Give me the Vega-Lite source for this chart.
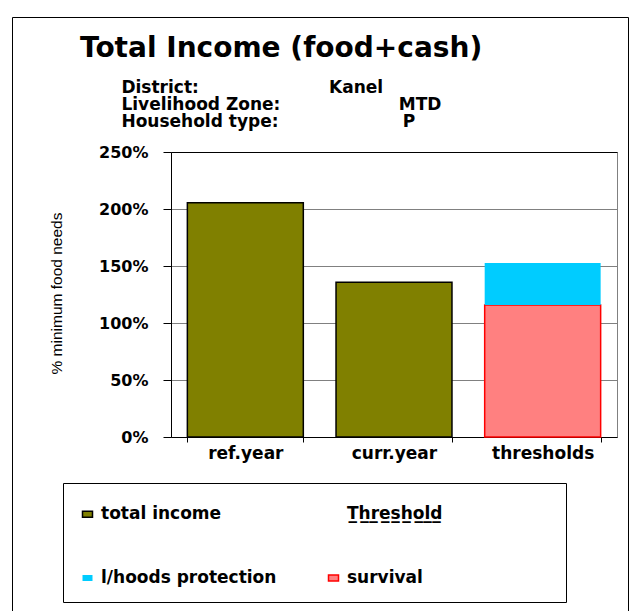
{
  "$schema": "https://vega.github.io/schema/vega-lite/v6.json",
  "autosize": "none",
  "width": 446,
  "height": 285,
  "padding": {"left": 171, "top": 152, "right": 17, "bottom": 174},
  "background": "white",
  "title": {
    "text": "Total Income (food+cash)",
    "subtitle": [
      "\u200b\u00a0\u00a0\u00a0\u00a0\u00a0\u00a0\u00a0District:\u00a0\u00a0\u00a0\u00a0\u00a0\u00a0\u00a0\u00a0\u00a0\u00a0\u00a0\u00a0\u00a0\u00a0\u00a0\u00a0\u00a0\u00a0\u00a0\u00a0\u00a0\u00a0Kanel",
      "\u200b\u00a0\u00a0\u00a0\u00a0\u00a0\u00a0\u00a0Livelihood Zone:\u00a0\u00a0\u00a0\u00a0\u00a0\u00a0\u00a0\u00a0\u00a0\u00a0\u00a0\u00a0\u00a0\u00a0\u00a0\u00a0\u00a0\u00a0\u00a0\u00a0MTD",
      "\u200b\u00a0\u00a0\u00a0\u00a0\u00a0\u00a0\u00a0Household type:\u00a0\u00a0\u00a0\u00a0\u00a0\u00a0\u00a0\u00a0\u00a0\u00a0\u00a0\u00a0\u00a0\u00a0\u00a0\u00a0\u00a0\u00a0\u00a0\u00a0\u00a0P"
    ],
    "anchor": "start",
    "frame": "group",
    "align": "left",
    "dx": -91,
    "dy": 126,
    "offset": 13,
    "font": "DejaVu Sans",
    "fontWeight": "bold",
    "fontSize": 28,
    "color": "#000000",
    "subtitleFont": "DejaVu Sans",
    "subtitleFontWeight": "bold",
    "subtitleFontSize": 17,
    "subtitleColor": "#000000",
    "subtitleLineHeight": 17,
    "subtitlePadding": 17
  },
  "data": {
    "values": [
      {"cat": "ref.year", "series": "total income", "value": 2.055},
      {"cat": "curr.year", "series": "total income", "value": 1.357},
      {"cat": "thresholds", "series": "survival", "value": 1.158},
      {"cat": "thresholds", "series": "l/hoods protection", "value": 0.368}
    ]
  },
  "mark": {"type": "bar", "strokeWidth": 1.5},
  "encoding": {
    "x": {
      "field": "cat",
      "type": "nominal",
      "sort": ["ref.year", "curr.year", "thresholds"],
      "scale": {"paddingInner": 0.22, "paddingOuter": 0.11},
      "axis": {
        "title": null,
        "labelAngle": 0,
        "tickBand": "extent",
        "tickSize": 5,
        "tickColor": "#000000",
        "domainColor": "#000000",
        "labelFont": "DejaVu Sans",
        "labelFontWeight": "bold",
        "labelFontSize": 17,
        "labelColor": "#000000",
        "labelBaseline": "alphabetic",
        "labelPadding": 16
      }
    },
    "y": {
      "field": "value",
      "type": "quantitative",
      "stack": "zero",
      "scale": {"domain": [0, 2.5], "nice": false},
      "axis": {
        "values": [0, 0.5, 1, 1.5, 2, 2.5],
        "format": ".0%",
        "title": "% minimum food needs",
        "titleFont": "Liberation Sans",
        "titleFontWeight": "normal",
        "titleFontSize": 15.5,
        "titleColor": "#000000",
        "titleX": -110,
        "titleY": 141,
        "titleAngle": -90,
        "titleAlign": "center",
        "titleBaseline": "alphabetic",
        "tickSize": 8,
        "tickColor": "#000000",
        "domainColor": "#000000",
        "labelFont": "DejaVu Sans",
        "labelFontWeight": "bold",
        "labelFontSize": 16,
        "labelColor": "#000000",
        "labelPadding": 15,
        "grid": true,
        "gridColor": {"condition": {"test": "datum.value >= 2.5", "value": "#000000"}, "value": "#808080"},
        "gridWidth": 1
      }
    },
    "order": {"field": "series", "type": "nominal", "sort": "descending"},
    "color": {
      "field": "series",
      "type": "nominal",
      "scale": {
        "domain": ["total income", "l/hoods protection", "Threshold", "survival"],
        "range": ["#808000", "#00CCFF", "rgba(0,0,0,0)", "#FF8080"]
      },
      "legend": {
        "title": "\u00a0",
        "titleFontSize": 5,
        "titlePadding": 1.5,
        "orient": "none",
        "legendX": -108,
        "legendY": 331,
        "columns": 2,
        "columnPadding": 48,
        "rowPadding": 46,
        "padding": 16,
        "strokeColor": "#000000",
        "symbolType": "M-1,-0.6H1V0.6H-1Z",
        "symbolSize": 100,
        "symbolOpacity": 1,
        "labelOffset": 5,
        "labelLimit": 400,
        "labelFont": "DejaVu Sans",
        "labelFontWeight": "bold",
        "labelFontSize": 17,
        "labelColor": "#000000",
        "labelExpr": "datum.label === 'Threshold' ? 'T\u0332h\u0332r\u0332e\u0332s\u0332h\u0332o\u0332l\u0332d\u0332\u00a0\u00a0\u00a0\u00a0\u00a0\u00a0\u00a0\u00a0\u00a0\u00a0\u00a0\u00a0\u00a0\u00a0\u00a0\u00a0\u00a0\u00a0\u200b' : datum.label",
        "encode": {
          "symbols": {
            "update": {
              "stroke": {"signal": "datum.value === 'total income' ? '#000000' : datum.value === 'survival' ? '#FF0000' : 'rgba(0,0,0,0)'"},
              "strokeWidth": {"value": 1.5}
            }
          }
        }
      }
    },
    "stroke": {
      "field": "series",
      "type": "nominal",
      "scale": {
        "domain": ["total income", "l/hoods protection", "Threshold", "survival"],
        "range": ["#000000", "rgba(0,0,0,0)", "rgba(0,0,0,0)", "#FF0000"]
      },
      "legend": null
    },
    "strokeDash": {
      "field": "cat",
      "type": "nominal",
      "scale": {"range": [[1, 0], [1, 0], [1, 0]]},
      "legend": {
        "title": null,
        "orient": "none",
        "legendX": -159,
        "legendY": -135,
        "padding": 307.5,
        "strokeColor": "#000000",
        "values": ["ref.year"],
        "symbolSize": 0,
        "symbolOpacity": 0,
        "symbolStrokeWidth": 0,
        "labelOpacity": 0,
        "labelFontSize": 1,
        "labelOffset": 0,
        "labelExpr": "''",
        "encode": {"legend": {"update": {"strokeWidth": {"value": 2}}}}
      }
    }
  },
  "config": {
    "view": {"stroke": "#808080", "strokeWidth": 1}
  }
}
